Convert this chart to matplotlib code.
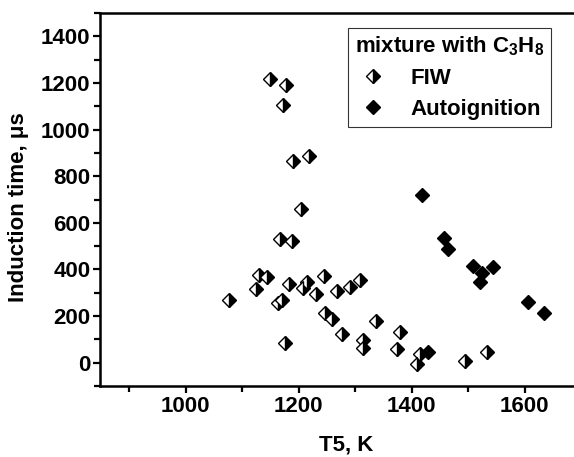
import numpy as np
import matplotlib
matplotlib.use('Agg')
import matplotlib.pyplot as plt
from matplotlib.ticker import MultipleLocator

plt.rcParams['font.family'] = ['Liberation Sans', 'DejaVu Sans']
plt.rcParams['font.weight'] = 'bold'
plt.rcParams['mathtext.fontset'] = 'custom'
plt.rcParams['mathtext.rm'] = 'Liberation Sans:bold'
plt.rcParams['mathtext.bf'] = 'Liberation Sans:bold'
plt.rcParams['mathtext.default'] = 'rm'

# FIW (half filled diamonds)
fiw_T = [1149, 1177, 1172, 1190, 1218, 1203, 1167, 1187, 1130, 1144, 1124, 1077,
         1183, 1215, 1208, 1230, 1245, 1163, 1171, 1175, 1247, 1268, 1291, 1308,
         1258, 1276, 1336, 1313, 1313, 1379, 1374, 1414, 1409, 1494, 1533]
fiw_t = [1216, 1190, 1104, 866, 885, 658, 532, 521, 377, 367, 315, 269,
         337, 348, 320, 294, 372, 257, 269, 85, 213, 308, 324, 355,
         186, 122, 180, 96, 65, 132, 60, 39, -4, 6, 46]

# Autoignition (filled diamonds)
auto_T = [1418, 1457, 1464, 1508, 1544, 1525, 1520, 1605, 1634, 1428]
auto_t = [719, 535, 489, 416, 410, 384, 348, 259, 212, 44]

fig = plt.figure(figsize=(5.74, 4.57), dpi=100)
ax = fig.add_axes([100/574, 71/457, 474/574, 373/457])

ax.plot(fiw_T, fiw_t, ls='none', marker='D', ms=7, fillstyle='right',
        mfc='black', mfcalt='white', mec='black', mew=1.0, label='FIW')
ax.plot(auto_T, auto_t, ls='none', marker='D', ms=7, mfc='black',
        mec='black', mew=1.0, label='Autoignition')

ax.set_xlim(848, 1687)
ax.set_ylim(-100, 1500)
ax.xaxis.set_major_locator(MultipleLocator(200))
ax.xaxis.set_minor_locator(MultipleLocator(100))
ax.yaxis.set_major_locator(MultipleLocator(200))
ax.yaxis.set_minor_locator(MultipleLocator(100))
ax.set_yticks(np.arange(0, 1401, 200))

ax.spines['right'].set_visible(False)
for s in ['left', 'bottom', 'top']:
    ax.spines[s].set_linewidth(1.8)
ax.tick_params(which='major', direction='out', length=5, width=1.6, labelsize=16, pad=2)
ax.tick_params(which='minor', direction='out', length=4, width=1.6)
ax.tick_params(top=False, which='both')
for lab in ax.get_xticklabels() + ax.get_yticklabels():
    lab.set_fontweight('bold')

ax.set_xlabel('T5, K', fontsize=16, fontweight='bold')
ax.set_ylabel('Induction time, \u03bcs', fontsize=16, fontweight='bold')
ax.xaxis.set_label_coords(0.52, -0.13)
ax.yaxis.set_label_coords(-0.15, 0.48)

leg = ax.legend(title='mixture with C$_3$H$_8$', loc='upper right',
                bbox_to_anchor=(451/474, 1 - 15/373), bbox_transform=ax.transAxes,
                prop={'size': 16, 'weight': 'bold'}, title_fontproperties={'size': 16, 'weight': 'bold'},
                fancybox=False, frameon=True, borderpad=0.3, handletextpad=0.9,
                labelspacing=0.45, handlelength=1.6, borderaxespad=0)
leg.get_frame().set_edgecolor('black')
leg.get_frame().set_linewidth(0.8)
leg._legend_box.align = 'left'

fig.savefig('out.png', dpi=100)
